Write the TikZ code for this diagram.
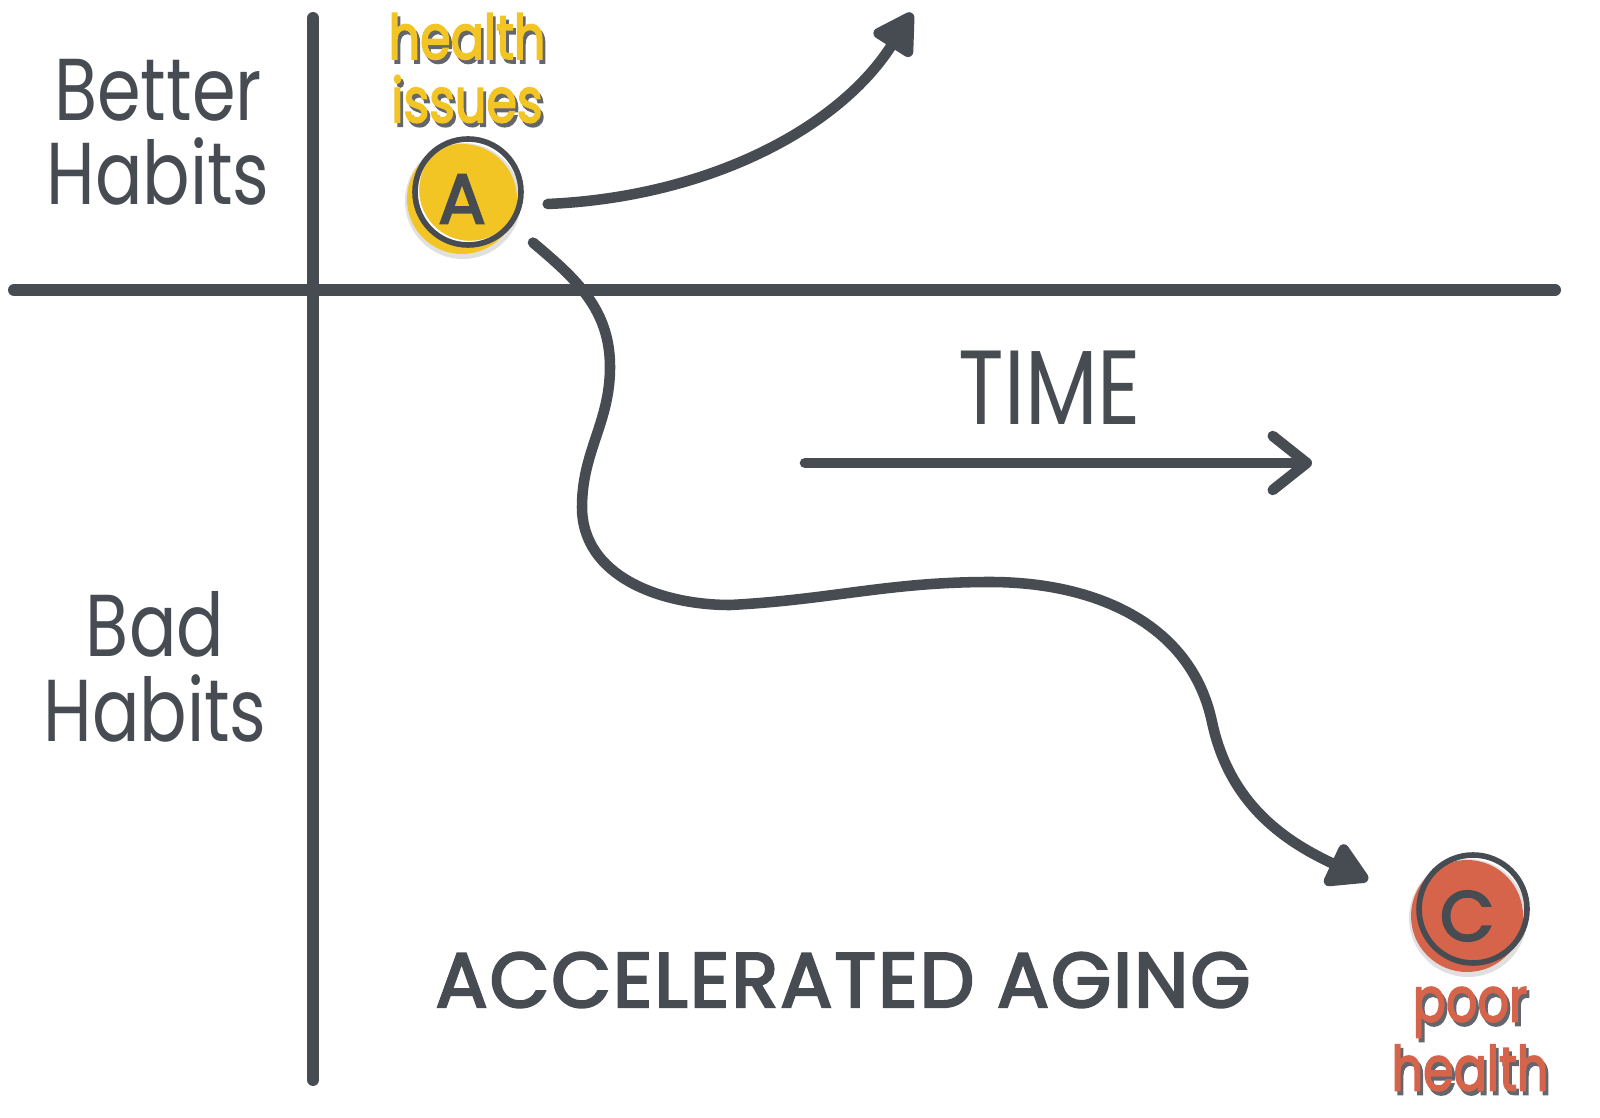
\documentclass[tikz,border=0pt]{standalone}
\usepackage{fontspec}
\setmainfont{Poppins}
\usetikzlibrary{arrows.meta,positioning}

\definecolor{ink}{HTML}{474B52}
\definecolor{sunny}{HTML}{F2C525}
\definecolor{brick}{HTML}{D5644B}

% narrow hand-lettered look
\newcommand{\hand}[1]{\scalebox{0.8}[1]{#1}}
% letters with a dark drop shadow
\newcommand{\shadowed}[1]{\rlap{\kern0.35mm\raisebox{-0.4mm}{\textcolor{ink!85}{#1}}}#1}

\tikzset{
    axis/.style={ink, line width=3.4pt, line cap=round},
    trend/.style={ink, line width=3pt, line cap=round,
        -{Triangle[length=4.6mm,width=5mm,round]}},
    habit/.style={text=ink, font=\fontsize{25}{24}\selectfont, align=center},
    badge/.style={circle, minimum size=1.1cm, inner sep=0pt, text=ink,
        font=\fontsize{20}{20}\selectfont\addfontfeatures{FakeBold=3}},
    tag/.style={font=\fontsize{17.5}{18}\selectfont\addfontfeatures{FakeBold=3},
        align=center}
}

\begin{document}
\begin{tikzpicture}
    \useasboundingbox (0,0) rectangle (16,11.17);

    % axes
    \coordinate (top) at (3.13,10.99);
    \coordinate (bottom) at (3.13,0.37);
    \coordinate (left) at (0.14,8.27);
    \coordinate (right) at (15.55,8.27);
    \draw[axis] (top) -- (bottom);
    \draw[axis] (left) -- (right);

    % side labels
    \node[habit] (better) at (1.58,9.85) {\hand{Better}\\\hand{Habits}};
    \node[habit] (bad) at (1.55,4.50) {\hand{Bad}\\\hand{Habits}};

    % badge A with its shadow and offset outline
    \coordinate (a-spot) at (4.65,9.22);
    \fill[black, opacity=0.12] ([shift={(-0.02,-0.06)}]a-spot) circle (0.58);
    \node[badge, fill=sunny] (A) at ([shift={(-0.03,-0.04)}]a-spot) {A};
    \draw[white, line width=1.2pt] ([shift={(0.05,0.05)}]a-spot) circle (0.53);
    \draw[ink, line width=1.6pt] ([shift={(0.03,0.03)}]a-spot) circle (0.53);

    % text over A
    \node[tag, text=sunny] (issues) at (4.67,10.47)
        {\hand{\shadowed{health}}\\\hand{\shadowed{issues}}};

    % badge C
    \coordinate (c-spot) at (14.70,2.05);
    \fill[black, opacity=0.12] ([shift={(-0.02,-0.06)}]c-spot) circle (0.59);
    \node[badge, fill=brick, minimum size=1.12cm] (C) at ([shift={(-0.03,-0.04)}]c-spot) {C};
    \draw[ink, line width=1.6pt] ([shift={(0.03,0.03)}]c-spot) circle (0.54);

    % text under C
    \node[tag, text=brick] (poor) at (14.70,0.76)
        {\hand{\shadowed{poor}}\\\hand{\shadowed{health}}};

    % the two paths out of A
    \coordinate (rise-end) at (9.12,11.04);
    \coordinate (fall-end) at (13.68,2.37);
    \draw[trend] ([shift={(0.3,-0.05)}]A.east)
        .. controls (7.1,9.2) and (8.4,9.9) .. (rise-end);
    \draw[trend] ([shift={(-35:0.83)}]a-spot)
        to[out=-40,in=90] (6.10,7.50)
        to[out=-90,in=90] (5.82,6.10)
        to[out=-90,in=180] (7.30,5.12)
        to[out=3,in=180] (9.90,5.35)
        to[out=0,in=102] (12.12,3.95)
        to[out=-78,in=155] (fall-end);

    % time
    \node[habit, font=\fontsize{30}{30}\selectfont] (time) at (10.50,7.29) {\hand{TIME}};
    \coordinate (time-start) at (8.05,6.54);
    \coordinate (time-end) at (13.12,6.54);
    \draw[ink, line width=3pt, line cap=round,
        -{Straight Barb[length=3.4mm,width=5.4mm,round]}] (time-start) -- (time-end);

    % bottom label
    \node[text=ink, font=\fontsize{22}{22}\selectfont\addfontfeatures{LetterSpace=2.5,FakeBold=3}]
        (aging) at (8.43,1.37) {ACCELERATED AGING};
\end{tikzpicture}
\end{document}
